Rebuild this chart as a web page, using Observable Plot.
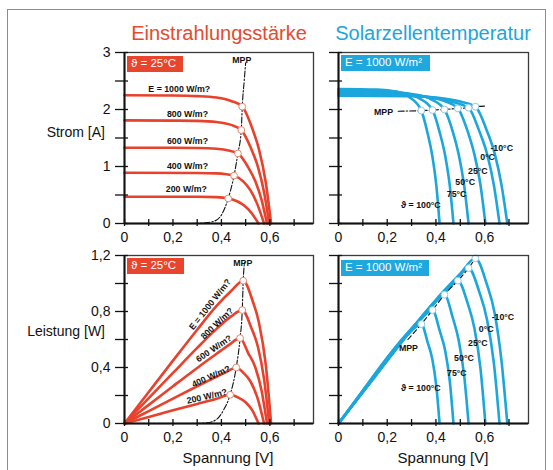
<!DOCTYPE html>
<html><head><meta charset="utf-8">
<script src="https://cdn.jsdelivr.net/npm/d3@7"></script>
<script src="https://cdn.jsdelivr.net/npm/@observablehq/plot@0.6"></script>
<style>
body{margin:0;background:#fff;}
#wrap{position:relative;width:553px;height:470px;overflow:hidden;font-family:"Liberation Sans",Arial,sans-serif;color:#111;}
.abs{position:absolute;white-space:nowrap;line-height:1;}
#border{position:absolute;left:7px;top:9px;width:539px;height:480px;border:1.5px solid #8c8c8c;box-sizing:border-box;}
.title{font-size:20px;transform:translateX(-50%);}
.ytitle{font-size:14px;text-align:right;}
.xtitle{font-size:15px;transform:translateX(-50%);}
.box{color:#fff;font-size:11.5px;padding:2px 4px;height:16px;box-sizing:border-box;display:flex;align-items:center;}
.plot-holder{position:absolute;}
</style>
</head><body>
<div id="wrap">
  <div id="border"></div>
  <div class="abs title" style="left:219px;top:23px;color:#e64a2e;">Einstrahlungsstärke</div>
  <div class="abs title" style="left:433px;top:23px;color:#1ba6dc;">Solarzellentemperatur</div>
  <div class="abs ytitle" style="right:448px;top:125px;">Strom [A]</div>
  <div class="abs ytitle" style="right:448px;top:324px;">Leistung [W]</div>
  <div class="abs xtitle" style="left:228px;top:450px;">Spannung [V]</div>
  <div class="abs xtitle" style="left:443px;top:450px;">Spannung [V]</div>
  <div id="p1" class="plot-holder" style="left:79px;top:40px;"></div>
  <div id="p2" class="plot-holder" style="left:293px;top:40px;"></div>
  <div id="p3" class="plot-holder" style="left:79px;top:243px;"></div>
  <div id="p4" class="plot-holder" style="left:293px;top:243px;"></div>
  <div class="abs box" style="left:127px;top:56px;width:56px;background:#e8452c;">ϑ = 25°C</div>
  <div class="abs box" style="left:341px;top:55px;width:89px;background:#1fa8de;">E = 1000 W/m²</div>
  <div class="abs box" style="left:127px;top:258px;width:57px;background:#e8452c;">ϑ = 25°C</div>
  <div class="abs box" style="left:341px;top:260px;width:88px;background:#1fa8de;">E = 1000 W/m²</div>
</div>
<script>
// ---------- axis ticks ----------
const voltageTicks = [0, 0.1, 0.2, 0.3, 0.4, 0.5, 0.6, 0.7];
const voltageLabels = [0, 0.2, 0.4, 0.6];
const currentTicks = [0, 0.5, 1, 1.5, 2, 2.5, 3];
const currentLabels = [0, 1, 2, 3];
const powerTicks = [0, 0.2, 0.4, 0.6, 0.8, 1, 1.2];
const powerLabels = [0, 0.4, 0.8, 1.2];

// ---------- series names ----------
const irradianceNames = ["E = 1000 W/m?", "800 W/m?", "600 W/m?", "400 W/m?", "200 W/m?"];
const temperatureNames = ["-10°C", "0°C", "25°C", "50°C", "75°C", "ϑ = 100°C"];

// ---------- I-V curves, varying irradiance (25 °C) : [voltage V, current A] ----------
const ivIrr1000 = [[0,2.25],[0.2,2.245],[0.3,2.235],[0.38,2.21],[0.44,2.15],[0.486,2.05],[0.528,1.66],[0.555,1.3],[0.583,0.72],[0.605,0]];
const ivIrr800  = [[0,1.81],[0.2,1.805],[0.3,1.8],[0.38,1.78],[0.44,1.73],[0.482,1.64],[0.522,1.32],[0.551,0.99],[0.576,0.55],[0.597,0]];
const ivIrr600  = [[0,1.33],[0.2,1.328],[0.3,1.325],[0.38,1.31],[0.43,1.28],[0.468,1.23],[0.51,0.99],[0.54,0.74],[0.566,0.41],[0.588,0]];
const ivIrr400  = [[0,0.89],[0.3,0.887],[0.38,0.88],[0.42,0.865],[0.452,0.84],[0.49,0.74],[0.52,0.58],[0.548,0.34],[0.576,0]];
const ivIrr200  = [[0,0.47],[0.3,0.468],[0.38,0.462],[0.428,0.44],[0.465,0.39],[0.495,0.31],[0.525,0.18],[0.553,0]];
const ivIrrMpp = [[0.486,2.05],[0.482,1.64],[0.468,1.23],[0.452,0.84],[0.428,0.44]];
const ivIrrMppLine = [[0.28,0],[0.33,0.01],[0.37,0.04],[0.4,0.15],[0.428,0.44],[0.452,0.84],[0.468,1.23],[0.482,1.64],[0.486,2.05],[0.494,2.5],[0.5,2.82]];

// ---------- P-V curves, varying irradiance (25 °C) : [voltage V, power W] ----------
const pvIrr1000 = [[0,0],[0.1,0.225],[0.2,0.449],[0.3,0.67],[0.38,0.84],[0.44,0.946],[0.49,1.02],[0.528,0.88],[0.555,0.72],[0.583,0.42],[0.605,0]];
const pvIrr800  = [[0,0],[0.1,0.181],[0.2,0.361],[0.3,0.54],[0.38,0.676],[0.44,0.765],[0.486,0.81],[0.522,0.69],[0.551,0.545],[0.576,0.317],[0.597,0]];
const pvIrr600  = [[0,0],[0.1,0.133],[0.2,0.266],[0.3,0.397],[0.38,0.498],[0.43,0.56],[0.477,0.61],[0.51,0.505],[0.54,0.4],[0.566,0.232],[0.588,0]];
const pvIrr400  = [[0,0],[0.1,0.089],[0.2,0.178],[0.3,0.266],[0.38,0.334],[0.42,0.368],[0.461,0.4],[0.49,0.363],[0.52,0.3],[0.548,0.186],[0.576,0]];
const pvIrr200  = [[0,0],[0.1,0.047],[0.2,0.094],[0.3,0.14],[0.38,0.176],[0.436,0.205],[0.47,0.185],[0.5,0.152],[0.527,0.095],[0.553,0]];
const pvIrrMpp = [[0.49,1.02],[0.486,0.81],[0.477,0.61],[0.461,0.4],[0.436,0.205]];
const pvIrrMppLine = [[0.29,0],[0.34,0.005],[0.38,0.03],[0.41,0.1],[0.436,0.205],[0.461,0.4],[0.477,0.61],[0.486,0.81],[0.49,1.02],[0.495,1.15]];

// ---------- I-V curves, varying temperature (1000 W/m²) ----------
const ivTm10 = [[0,2.24],[0.3,2.235],[0.4,2.21],[0.5,2.14],[0.562,2.05],[0.608,1.64],[0.641,1.23],[0.669,0.68],[0.693,0]];
const ivT0   = [[0,2.25],[0.3,2.24],[0.4,2.2],[0.47,2.13],[0.534,2.03],[0.578,1.62],[0.61,1.22],[0.638,0.67],[0.661,0]];
const ivT25  = [[0,2.27],[0.3,2.25],[0.38,2.21],[0.44,2.14],[0.49,2.02],[0.53,1.62],[0.558,1.21],[0.583,0.67],[0.603,0]];
const ivT50  = [[0,2.3],[0.25,2.29],[0.32,2.26],[0.38,2.18],[0.435,2.0],[0.47,1.6],[0.494,1.2],[0.516,0.66],[0.534,0]];
const ivT75  = [[0,2.33],[0.2,2.32],[0.27,2.29],[0.33,2.2],[0.386,1.99],[0.416,1.59],[0.438,1.19],[0.457,0.66],[0.472,0]];
const ivT100 = [[0,2.36],[0.16,2.35],[0.24,2.31],[0.29,2.22],[0.34,1.98],[0.366,1.58],[0.385,1.19],[0.402,0.65],[0.415,0]];
const ivTempMpp = [[0.562,2.05],[0.534,2.03],[0.49,2.02],[0.435,2.0],[0.386,1.99],[0.34,1.98]];
const ivTempMppLine = [[0.245,1.97],[0.34,1.98],[0.386,1.99],[0.435,2.0],[0.49,2.02],[0.534,2.03],[0.562,2.05],[0.6,2.06]];

// ---------- P-V curves, varying temperature (1000 W/m²) ----------
const pvTm10 = [[0,0],[0.1,0.224],[0.3,0.67],[0.4,0.884],[0.5,1.07],[0.562,1.18],[0.608,1.0],[0.641,0.79],[0.669,0.45],[0.693,0]];
const pvT0   = [[0,0],[0.1,0.225],[0.3,0.672],[0.4,0.88],[0.47,1.0],[0.534,1.11],[0.578,0.94],[0.61,0.74],[0.638,0.43],[0.661,0]];
const pvT25  = [[0,0],[0.1,0.227],[0.3,0.675],[0.38,0.84],[0.44,0.94],[0.49,1.02],[0.53,0.86],[0.558,0.68],[0.583,0.39],[0.603,0]];
const pvT50  = [[0,0],[0.1,0.23],[0.3,0.678],[0.38,0.83],[0.435,0.92],[0.47,0.75],[0.494,0.59],[0.516,0.34],[0.534,0]];
const pvT75  = [[0,0],[0.1,0.233],[0.27,0.62],[0.33,0.73],[0.386,0.81],[0.416,0.66],[0.438,0.52],[0.457,0.3],[0.472,0]];
const pvT100 = [[0,0],[0.1,0.236],[0.24,0.555],[0.29,0.645],[0.34,0.71],[0.366,0.58],[0.385,0.46],[0.402,0.26],[0.415,0]];
const pvTempMpp = [[0.562,1.18],[0.534,1.11],[0.49,1.02],[0.435,0.92],[0.386,0.81],[0.34,0.71]];
const pvTempMppLine = [[0.285,0.6],[0.34,0.71],[0.386,0.81],[0.435,0.92],[0.49,1.02],[0.534,1.11],[0.562,1.18]];

// ---------- annotation anchors (data coordinates) ----------
const ivIrrLabelAt = [[0.226,2.36],[0.26,1.92],[0.26,1.45],[0.26,1.0],[0.255,0.6]];
const pvIrrLabelAt = [[0.353,0.85],[0.382,0.714],[0.369,0.535],[0.357,0.336],[0.34,0.193]];
const pvIrrLabelAngle = [-52, -44, -34, -24, -13];
const ivTempLabelAt = [[0.67,1.33],[0.612,1.16],[0.572,0.91],[0.52,0.72],[0.485,0.51],[0.338,0.33]];
const pvTempLabelAt = [[0.675,0.757],[0.606,0.671],[0.572,0.571],[0.515,0.464],[0.486,0.357],[0.338,0.25]];
const mppName = "MPP";

// ---------- helpers ----------
const RED = "#e8412c", BLUE = "#1ba6dc";
const tidy = (curves) => curves.flatMap((pts, k) => pts.map(([v, y]) => ({k, v, y})));
const pts = (arr) => arr.map(([v, y]) => ({v, y}));
const fmt = d => String(d).replace(".", ",");
const labelFont = {fontSize: 8.8, fontWeight: "bold", fontFamily: "'Liberation Sans',Arial,sans-serif", fill: "#111"};

function panel(o) {
  return Plot.plot({
    width: o.width, height: o.height,
    marginLeft: 45, marginRight: 12, marginTop: 12, marginBottom: 30,
    x: {domain: [0, 0.78], axis: null},
    y: {domain: o.yDomain, axis: null},
    style: {background: "transparent", overflow: "visible", fontFamily: "'Liberation Sans',Arial,sans-serif", fontSize: "14px", color: "#111"},
    marks: [
      Plot.line(tidy(o.curves), {x: "v", y: "y", z: "k", stroke: o.color, strokeWidth: 2.6, curve: "monotone-x"}),
      Plot.line(pts(o.mppLine), {x: "v", y: "y", stroke: "#111", strokeWidth: 1.1, strokeDasharray: o.dash, curve: "monotone-x"}),
      Plot.dot(pts(o.mpp), {x: "v", y: "y", r: 3.4, fill: "white", stroke: o.dotStroke, strokeWidth: 1}),
      Plot.text(o.labels, {x: "v", y: "y", text: "t", rotate: d => d.r, ...labelFont}),
      Plot.frame({stroke: "#3a3a3a", strokeWidth: 1.3}),
      Plot.ruleX([0], {stroke: "#111", strokeWidth: 2}),
      Plot.ruleY([0], {stroke: "#111", strokeWidth: 2}),
      Plot.axisX(voltageTicks, {tickSize: 7, dy: -4, fill: "none", label: null, stroke: "#111", strokeWidth: 1.3}),
      Plot.axisX(voltageLabels, {tickSize: 0, tickPadding: 9, tickFormat: fmt, label: null, fill: "#111"}),
      Plot.axisY(o.yTicks, {tickSize: 13, dx: 4, fill: "none", label: null, stroke: "#111", strokeWidth: 1.3}),
      o.yLabels ? Plot.axisY(o.yLabels, {tickSize: 0, tickPadding: 14, tickFormat: fmt, label: null, fill: "#111"}) : null
    ]
  });
}

const labelRows = (names, at, angles, extra) => names.map((t, i) => ({t, v: at[i][0], y: at[i][1], r: angles ? angles[i] : 0}))
  .concat(extra ? [{t: mppName, v: extra[0], y: extra[1], r: 0}] : []);

document.getElementById("p1").append(panel({
  width: 246, height: 213, yDomain: [0, 3], yTicks: currentTicks, yLabels: currentLabels,
  curves: [ivIrr1000, ivIrr800, ivIrr600, ivIrr400, ivIrr200], color: RED, dotStroke: "#e48a70",
  mppLine: ivIrrMppLine, mpp: ivIrrMpp, dash: "6,2,1.5,2",
  labels: labelRows(irradianceNames, ivIrrLabelAt, null, [0.484, 2.87])
}));
document.getElementById("p2").append(panel({
  width: 247, height: 213, yDomain: [0, 3], yTicks: currentTicks, yLabels: null,
  curves: [ivTm10, ivT0, ivT25, ivT50, ivT75, ivT100], color: BLUE, dotStroke: "#8ccbe6",
  mppLine: ivTempMppLine, mpp: ivTempMpp, dash: "6,2,1.5,2",
  labels: labelRows(temperatureNames, ivTempLabelAt, null, [0.185, 1.95])
}));
document.getElementById("p3").append(panel({
  width: 246, height: 210, yDomain: [0, 1.2], yTicks: powerTicks, yLabels: powerLabels,
  curves: [pvIrr1000, pvIrr800, pvIrr600, pvIrr400, pvIrr200], color: RED, dotStroke: "#e48a70",
  mppLine: pvIrrMppLine, mpp: pvIrrMpp, dash: "6,2,1.5,2",
  labels: labelRows(irradianceNames, pvIrrLabelAt, pvIrrLabelAngle, [0.488, 1.145])
}));
document.getElementById("p4").append(panel({
  width: 247, height: 210, yDomain: [0, 1.2], yTicks: powerTicks, yLabels: null,
  curves: [pvTm10, pvT0, pvT25, pvT50, pvT75, pvT100], color: BLUE, dotStroke: "#8ccbe6",
  mppLine: pvTempMppLine, mpp: pvTempMpp, dash: "5,3",
  labels: labelRows(temperatureNames, pvTempLabelAt, null, [0.287, 0.536])
}));
</script>
</body></html>
